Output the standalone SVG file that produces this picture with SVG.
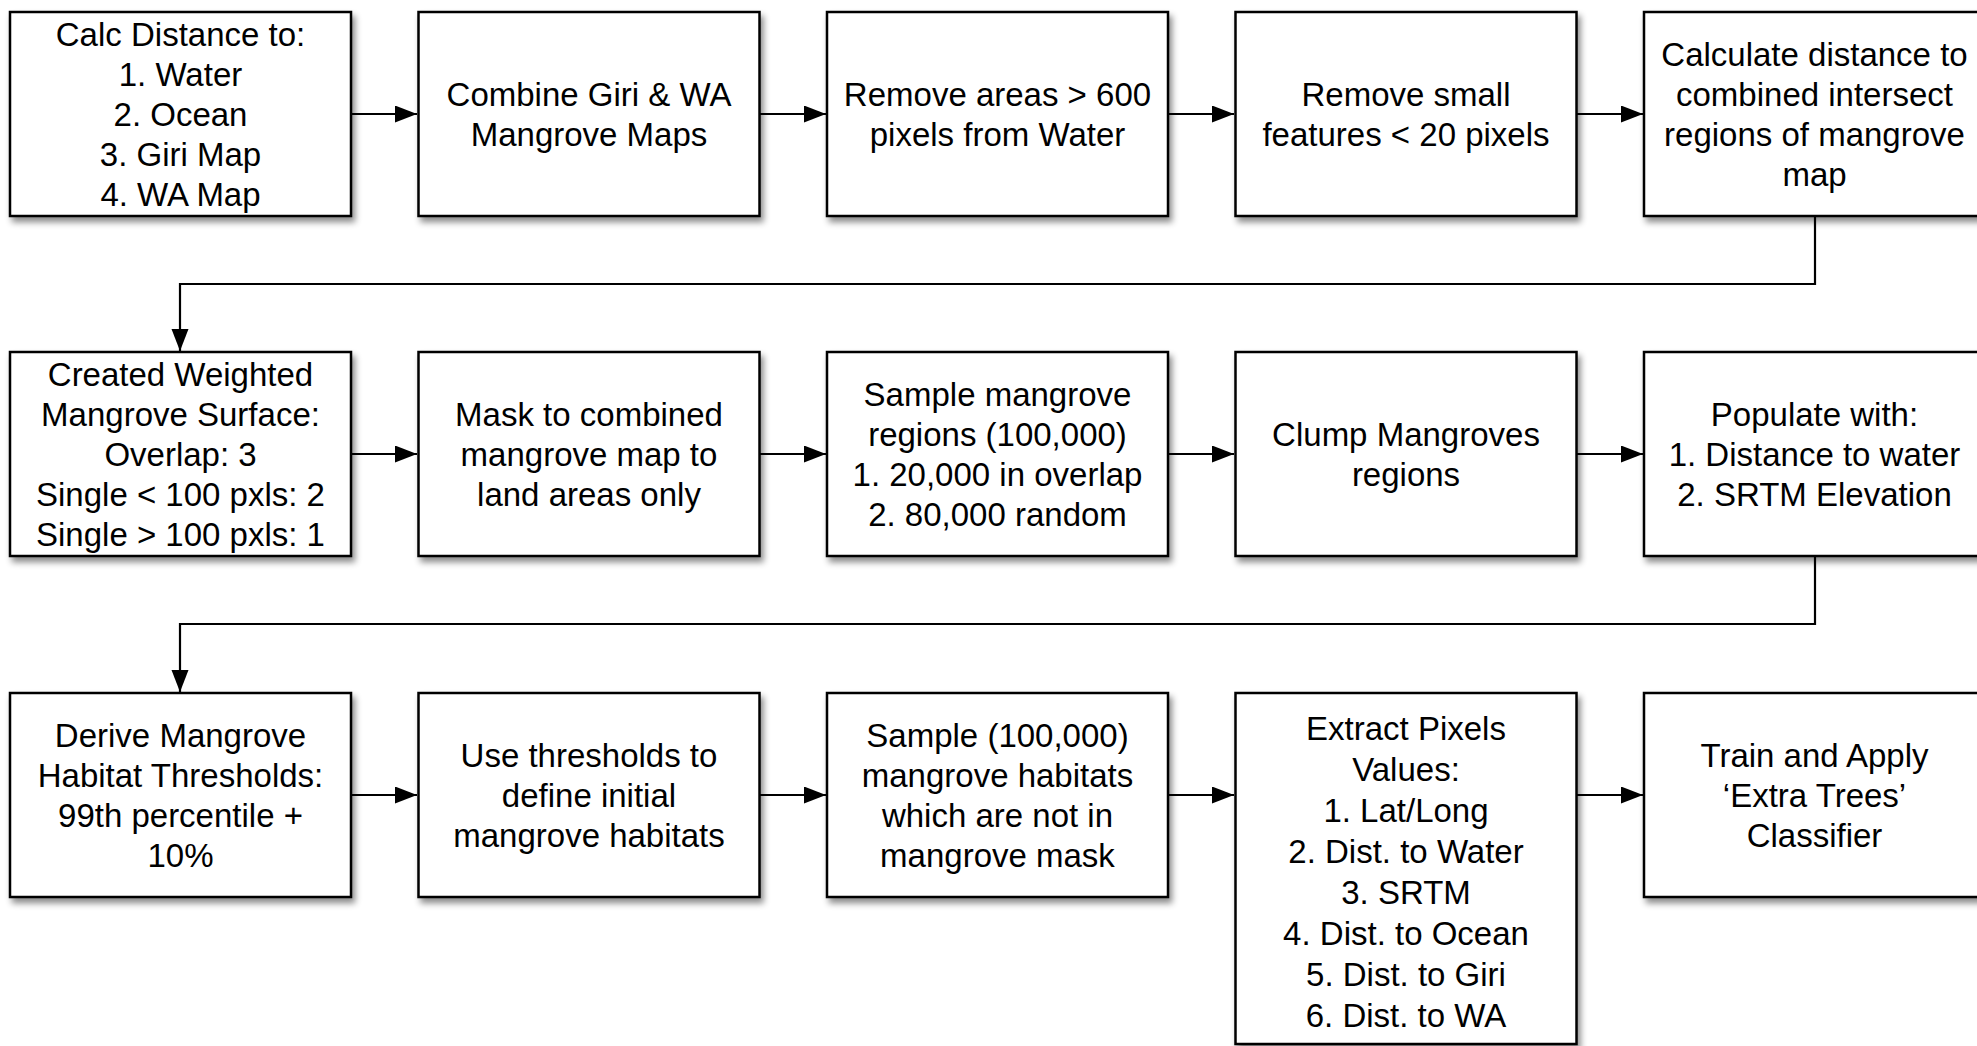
<svg xmlns="http://www.w3.org/2000/svg" width="1977" height="1046" viewBox="0 0 1977 1046">
<style>
.box{fill:#fff;stroke:#000;stroke-width:2.5;filter:url(#sh)}
.t{font-family:"Liberation Sans",Arial,Helvetica,sans-serif;font-size:33px;fill:#000;text-anchor:middle}
.c{fill:none;stroke:#000;stroke-width:2.2}
</style>
<defs>
<filter id="sh" x="-10%" y="-10%" width="125%" height="130%">
<feDropShadow dx="3" dy="5" stdDeviation="3" flood-color="#000" flood-opacity="0.45"/>
</filter>
<marker id="ah" markerUnits="userSpaceOnUse" markerWidth="24" markerHeight="18" refX="22" refY="8.5" orient="auto">
<path d="M0,0 L22,8.5 L0,17 z" fill="#000"/>
</marker>
</defs>
<rect width="1977" height="1046" fill="#fff"/>

<g id="connectors">
<path class="c" d="M351,114 H417" marker-end="url(#ah)"/>
<path class="c" d="M760,114 H826" marker-end="url(#ah)"/>
<path class="c" d="M1168,114 H1234" marker-end="url(#ah)"/>
<path class="c" d="M1576,114 H1643" marker-end="url(#ah)"/>
<path class="c" d="M1815,216 V284 H180 V351" marker-end="url(#ah)"/>
<path class="c" d="M351,454 H417" marker-end="url(#ah)"/>
<path class="c" d="M760,454 H826" marker-end="url(#ah)"/>
<path class="c" d="M1168,454 H1234" marker-end="url(#ah)"/>
<path class="c" d="M1576,454 H1643" marker-end="url(#ah)"/>
<path class="c" d="M1815,556 V624 H180 V692" marker-end="url(#ah)"/>
<path class="c" d="M351,795 H417" marker-end="url(#ah)"/>
<path class="c" d="M760,795 H826" marker-end="url(#ah)"/>
<path class="c" d="M1168,795 H1234" marker-end="url(#ah)"/>
<path class="c" d="M1576,795 H1643" marker-end="url(#ah)"/>
</g>

<g id="n1"><rect class="box" x="10" y="12" width="341" height="204"/>
<text class="t" x="180.5" y="46">Calc Distance to:</text>
<text class="t" x="180.5" y="86">1. Water</text>
<text class="t" x="180.5" y="126">2. Ocean</text>
<text class="t" x="180.5" y="166">3. Giri Map</text>
<text class="t" x="180.5" y="206">4. WA Map</text></g>

<g id="n2"><rect class="box" x="418.5" y="12" width="341" height="204"/>
<text class="t" x="589" y="106">Combine Giri &amp; WA</text>
<text class="t" x="589" y="146">Mangrove Maps</text></g>

<g id="n3"><rect class="box" x="827" y="12" width="341" height="204"/>
<text class="t" x="997.5" y="106">Remove areas &gt; 600</text>
<text class="t" x="997.5" y="146">pixels from Water</text></g>

<g id="n4"><rect class="box" x="1235.5" y="12" width="341" height="204"/>
<text class="t" x="1406" y="106">Remove small</text>
<text class="t" x="1406" y="146">features &lt; 20 pixels</text></g>

<g id="n5"><rect class="box" x="1644" y="12" width="341" height="204"/>
<text class="t" x="1814.5" y="66">Calculate distance to</text>
<text class="t" x="1814.5" y="106">combined intersect</text>
<text class="t" x="1814.5" y="146">regions of mangrove</text>
<text class="t" x="1814.5" y="186">map</text></g>

<g id="n6"><rect class="box" x="10" y="352" width="341" height="204"/>
<text class="t" x="180.5" y="386">Created Weighted</text>
<text class="t" x="180.5" y="426">Mangrove Surface:</text>
<text class="t" x="180.5" y="466">Overlap: 3</text>
<text class="t" x="180.5" y="506">Single &lt; 100 pxls: 2</text>
<text class="t" x="180.5" y="546">Single &gt; 100 pxls: 1</text></g>

<g id="n7"><rect class="box" x="418.5" y="352" width="341" height="204"/>
<text class="t" x="589" y="426">Mask to combined</text>
<text class="t" x="589" y="466">mangrove map to</text>
<text class="t" x="589" y="506">land areas only</text></g>

<g id="n8"><rect class="box" x="827" y="352" width="341" height="204"/>
<text class="t" x="997.5" y="406">Sample mangrove</text>
<text class="t" x="997.5" y="446">regions (100,000)</text>
<text class="t" x="997.5" y="486">1. 20,000 in overlap</text>
<text class="t" x="997.5" y="526">2. 80,000 random</text></g>

<g id="n9"><rect class="box" x="1235.5" y="352" width="341" height="204"/>
<text class="t" x="1406" y="446">Clump Mangroves</text>
<text class="t" x="1406" y="486">regions</text></g>

<g id="n10"><rect class="box" x="1644" y="352" width="341" height="204"/>
<text class="t" x="1814.5" y="426">Populate with:</text>
<text class="t" x="1814.5" y="466">1. Distance to water</text>
<text class="t" x="1814.5" y="506">2. SRTM Elevation</text></g>

<g id="n11"><rect class="box" x="10" y="693" width="341" height="204"/>
<text class="t" x="180.5" y="747">Derive Mangrove</text>
<text class="t" x="180.5" y="787">Habitat Thresholds:</text>
<text class="t" x="180.5" y="827">99th percentile +</text>
<text class="t" x="180.5" y="867">10%</text></g>

<g id="n12"><rect class="box" x="418.5" y="693" width="341" height="204"/>
<text class="t" x="589" y="767">Use thresholds to</text>
<text class="t" x="589" y="807">define initial</text>
<text class="t" x="589" y="847">mangrove habitats</text></g>

<g id="n13"><rect class="box" x="827" y="693" width="341" height="204"/>
<text class="t" x="997.5" y="747">Sample (100,000)</text>
<text class="t" x="997.5" y="787">mangrove habitats</text>
<text class="t" x="997.5" y="827">which are not in</text>
<text class="t" x="997.5" y="867">mangrove mask</text></g>

<g id="n14"><rect class="box" x="1235.5" y="693" width="341" height="351"/>
<text class="t" x="1406" y="740">Extract Pixels</text>
<text class="t" x="1406" y="781">Values:</text>
<text class="t" x="1406" y="822">1. Lat/Long</text>
<text class="t" x="1406" y="863">2. Dist. to Water</text>
<text class="t" x="1406" y="904">3. SRTM</text>
<text class="t" x="1406" y="945">4. Dist. to Ocean</text>
<text class="t" x="1406" y="986">5. Dist. to Giri</text>
<text class="t" x="1406" y="1027">6. Dist. to WA</text></g>

<g id="n15"><rect class="box" x="1644" y="693" width="341" height="204"/>
<text class="t" x="1814.5" y="767">Train and Apply</text>
<text class="t" x="1814.5" y="807">‘Extra Trees’</text>
<text class="t" x="1814.5" y="847">Classifier</text></g>
</svg>
